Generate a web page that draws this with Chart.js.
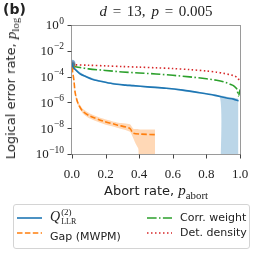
<!DOCTYPE html>
<html>
<head>
<meta charset="utf-8">
<script src="https://cdn.jsdelivr.net/npm/chart.js@4.4.1/dist/chart.umd.min.js"></script>
<style>
html, body { margin: 0; padding: 0; background: #fff; }
#wrap { position: relative; width: 254px; height: 254px; overflow: hidden; }
#chart { position: absolute; left: 0; top: 0; }
.t { position: absolute; white-space: nowrap; color: #222; font-family: "DejaVu Sans", sans-serif; font-size: 13px; line-height: 1; }
.m { font-family: "Liberation Serif", serif; }
.m sub { font-size: 72%; line-height: 0; }
#legend { position: absolute; left: 13px; top: 204px; width: 235px; height: 43px; border: 1px solid #d4d4d4; border-radius: 3px; }
.sw { position: absolute; }
.lg { font-size: 11px; }
</style>
</head>
<body>
<div id="wrap">
  <canvas id="chart" width="254" height="254"></canvas>
  <div class="t" style="left:3px;top:2px;font-weight:bold;font-size:14px;">(b)</div>
  <div class="t m" style="left:156px;top:4px;transform:translateX(-50%);font-size:15px;word-spacing:2px;"><i>d</i> = 13, <i>p</i> = 0.005</div>
  <div class="t" style="left:4px;top:18px;writing-mode:vertical-rl;transform:rotate(180deg);">Logical error rate, <span class="m" style="font-size:15px"><i>p</i><sub>log</sub></span></div>
  <div class="t" style="left:156px;top:183px;transform:translateX(-50%);">Abort rate, <span class="m" style="font-size:15px"><i>p</i><sub>abort</sub></span></div>
  <div id="legend"></div>
  <svg class="sw" style="left:17px;top:215px" width="25" height="6"><line x1="0" y1="3" x2="25" y2="3" stroke="#1f77b4" stroke-width="1.6"/></svg>
  <svg class="sw" style="left:17px;top:230px" width="25" height="6"><line x1="0" y1="3" x2="25" y2="3" stroke="#ff7f0e" stroke-width="1.6" stroke-dasharray="5.5,2.4"/></svg>
  <svg class="sw" style="left:147px;top:215px" width="25" height="6"><line x1="0" y1="3" x2="25" y2="3" stroke="#2ca02c" stroke-width="1.6" stroke-dasharray="9.6,2.4,1.5,2.4"/></svg>
  <svg class="sw" style="left:147px;top:230px" width="25" height="6"><line x1="0" y1="3" x2="25" y2="3" stroke="#d62728" stroke-width="1.6" stroke-dasharray="1.5,2.5"/></svg>
  <div class="t m" style="left:50px;top:207px;font-size:14px;"><i style="vertical-align:middle">Q</i><span style="display:inline-block;vertical-align:middle;font-size:9px;line-height:10px;margin-left:1px;"><span style="display:block">(2)</span><span style="display:block;font-size:8px">LLR</span></span></div>
  <div class="t lg" style="left:50px;top:231px;">Gap (MWPM)</div>
  <div class="t lg" style="left:180px;top:212px;">Corr. weight</div>
  <div class="t lg" style="left:180px;top:227px;">Det. density</div>
</div>
<script>
// axis ticks
var xTicks = [0, 0.2, 0.4, 0.6, 0.8, 1.0];
var yTicks = [1, 1e-2, 1e-4, 1e-6, 1e-8, 1e-10];

// Q_LLR^(2)
var llrX = [0, 0.01, 0.024, 0.05, 0.083, 0.12, 0.163, 0.242, 0.32, 0.365, 0.45, 0.56, 0.66, 0.76, 0.85, 0.92, 0.96, 0.99];
var llrY = [1.07e-3, 5.0e-4, 3.2e-4, 1.6e-4, 1.0e-4, 6.3e-5, 4.6e-5, 2.8e-5, 2.2e-5, 2.0e-5, 1.6e-5, 1.26e-5, 8.9e-6, 5.6e-6, 3.5e-6, 2.2e-6, 1.8e-6, 1.3e-6];
var llrBandX = [0, 0.024, 0.083, 0.163, 0.32, 0.56, 0.76, 0.88, 0.885, 0.92, 0.96, 0.99];
var llrBandHi = [1.3e-3, 3.8e-4, 1.2e-4, 5.3e-5, 2.5e-5, 1.4e-5, 6.3e-6, 3.5e-6, 3.4e-6, 2.8e-6, 2.3e-6, 1.9e-6];
var llrBandLo = [0.9e-3, 2.7e-4, 0.85e-4, 4.0e-5, 1.9e-5, 1.1e-5, 4.8e-6, 2.4e-6, 1e-12, 1e-12, 1e-12, 1e-12];

// Gap (MWPM)
var gapX = [0, 0.012, 0.02, 0.036, 0.065, 0.107, 0.185, 0.268, 0.345, 0.363, 0.405, 0.494];
var gapY = [5.5e-4, 5.5e-5, 5.4e-6, 8.9e-7, 2.1e-7, 8.9e-8, 3.6e-8, 1.8e-8, 9.5e-9, 4.3e-9, 3.5e-9, 3.2e-9];
var gapBandX = [0, 0.012, 0.02, 0.036, 0.065, 0.107, 0.185, 0.268, 0.345, 0.365, 0.38, 0.395, 0.405, 0.494];
var gapBandHi = [6.5e-4, 7e-5, 7.5e-6, 1.3e-6, 3.2e-7, 1.4e-7, 5.6e-8, 2.8e-8, 2.0e-8, 9e-9, 8.5e-9, 8.3e-9, 8e-9, 8e-9];
var gapBandLo = [4.5e-4, 4e-5, 3.8e-6, 6e-7, 1.4e-7, 5.6e-8, 2.2e-8, 1.1e-8, 5.4e-9, 1.7e-9, 6e-10, 2.5e-10, 1e-12, 1e-12];

// Corr. weight
var corrX = [0, 0.05, 0.1, 0.2, 0.3, 0.4, 0.5, 0.6, 0.7, 0.8, 0.86, 0.9, 0.94, 0.96, 0.98, 0.99, 1.0];
var corrY = [6.6e-4, 5.0e-4, 4.0e-4, 3.0e-4, 2.3e-4, 1.9e-4, 1.6e-4, 1.26e-4, 9.5e-5, 6.8e-5, 5.2e-5, 4.0e-5, 2.6e-5, 2.0e-5, 1.1e-5, 3.2e-6, 1.0e-5];

// Det. density
var detX = [0, 0.1, 0.2, 0.3, 0.4, 0.5, 0.6, 0.7, 0.8, 0.86, 0.9, 0.94, 0.96, 0.98, 0.99, 1.0];
var detY = [8.3e-4, 7.6e-4, 6.8e-4, 6.0e-4, 5.4e-4, 4.8e-4, 4.2e-4, 3.5e-4, 2.7e-4, 2.2e-4, 1.8e-4, 1.4e-4, 1.2e-4, 8.9e-5, 6.3e-5, 5.0e-5];

function pts(xs, ys) {
    return xs.map((x, i) => ({x: x, y: ys[i]}));
}

function line(data, color, dash, order) {
    return {
        data: data,
        borderColor: color,
        borderWidth: 1.6,
        borderDash: dash,
        fill: false,
        tension: 0.3,
        order: order,
        pointRadius: ctx => ctx.dataIndex === 0 ? 3.5 : 0,
        pointBackgroundColor: color + '99',
        pointBorderWidth: 0
    };
}

function band(data, color, fill) {
    return {
        data: data,
        borderWidth: 0,
        pointRadius: 0,
        backgroundColor: color,
        fill: fill,
        tension: 0.2,
        order: 10
    };
}

// frame on all four sides, outward tick marks, y labels as 10^n with a real superscript
const frame = {
    id: 'frame',
    afterDraw(chart) {
        const a = chart.chartArea, c = chart.ctx, x = chart.scales.x, y = chart.scales.y;
        c.save();
        c.strokeStyle = '#9a9a9a';
        c.lineWidth = 1;
        c.strokeRect(a.left + 0.5, a.top + 0.5, a.right - a.left - 1, a.bottom - a.top);

        c.strokeStyle = '#444';
        c.beginPath();
        xTicks.forEach(v => {
            const px = Math.round(x.getPixelForValue(v)) + 0.5;
            c.moveTo(px, a.bottom + 0.5);
            c.lineTo(px, a.bottom + 4.5);
        });
        yTicks.forEach(v => {
            const py = Math.round(y.getPixelForValue(v)) + 0.5;
            c.moveTo(a.left + 0.5, py);
            c.lineTo(a.left - 3.5, py);
        });
        c.stroke();

        c.fillStyle = '#222';
        c.textAlign = 'right';
        c.textBaseline = 'middle';
        yTicks.forEach(v => {
            const py = y.getPixelForValue(v) + 1;
            const exp = String(Math.round(Math.log10(v))).replace('-', '\u2212');
            c.font = '9.5px "Liberation Serif"';
            const ew = c.measureText(exp).width;
            c.fillText(exp, 64, py - 5);
            c.font = '13px "Liberation Serif"';
            c.fillText('10', 64 - ew - 0.5, py);
        });
        c.restore();
    }
};

new Chart(document.getElementById('chart'), {
    type: 'line',
    data: {
        datasets: [
            line(pts(llrX, llrY), '#1f77b4', [], 0),
            line(pts(gapX, gapY), '#ff7f0e', [5.5, 2.4], 1),
            line(pts(corrX, corrY), '#2ca02c', [9.6, 2.4, 1.5, 2.4], 2),
            line(pts(detX, detY), '#d62728', [1.5, 2.5], 3),
            band(pts(llrBandX, llrBandHi), 'rgba(31,119,180,0.3)', '+1'),
            band(pts(llrBandX, llrBandLo), 'transparent', false),
            band(pts(gapBandX, gapBandHi), 'rgba(255,127,14,0.3)', '+1'),
            band(pts(gapBandX, gapBandLo), 'transparent', false)
        ]
    },
    options: {
        responsive: false,
        animation: false,
        layout: {padding: {left: 0, right: 13, top: 25, bottom: 0}},
        plugins: {legend: {display: false}, tooltip: {enabled: false}},
        scales: {
            x: {
                type: 'linear',
                min: -0.005,
                max: 1.005,
                afterBuildTicks: s => { s.ticks = xTicks.map(v => ({value: v})); },
                afterFit: s => { s.height = 100; },
                grid: {display: false},
                border: {display: false},
                ticks: {
                    padding: 5,
                    maxRotation: 0,
                    color: '#222',
                    font: {family: 'Liberation Serif', size: 13},
                    callback: v => v.toFixed(1)
                }
            },
            y: {
                type: 'logarithmic',
                min: 1e-10,
                max: 1,
                afterBuildTicks: s => { s.ticks = yTicks.map(v => ({value: v})); },
                afterFit: s => { s.width = 71; },
                grid: {display: false},
                border: {display: false},
                // labels are drawn by the frame plugin (mixed-size superscripts)
                ticks: {display: true, callback: () => ''}
            }
        }
    },
    plugins: [frame]
});
</script>
</body>
</html>
